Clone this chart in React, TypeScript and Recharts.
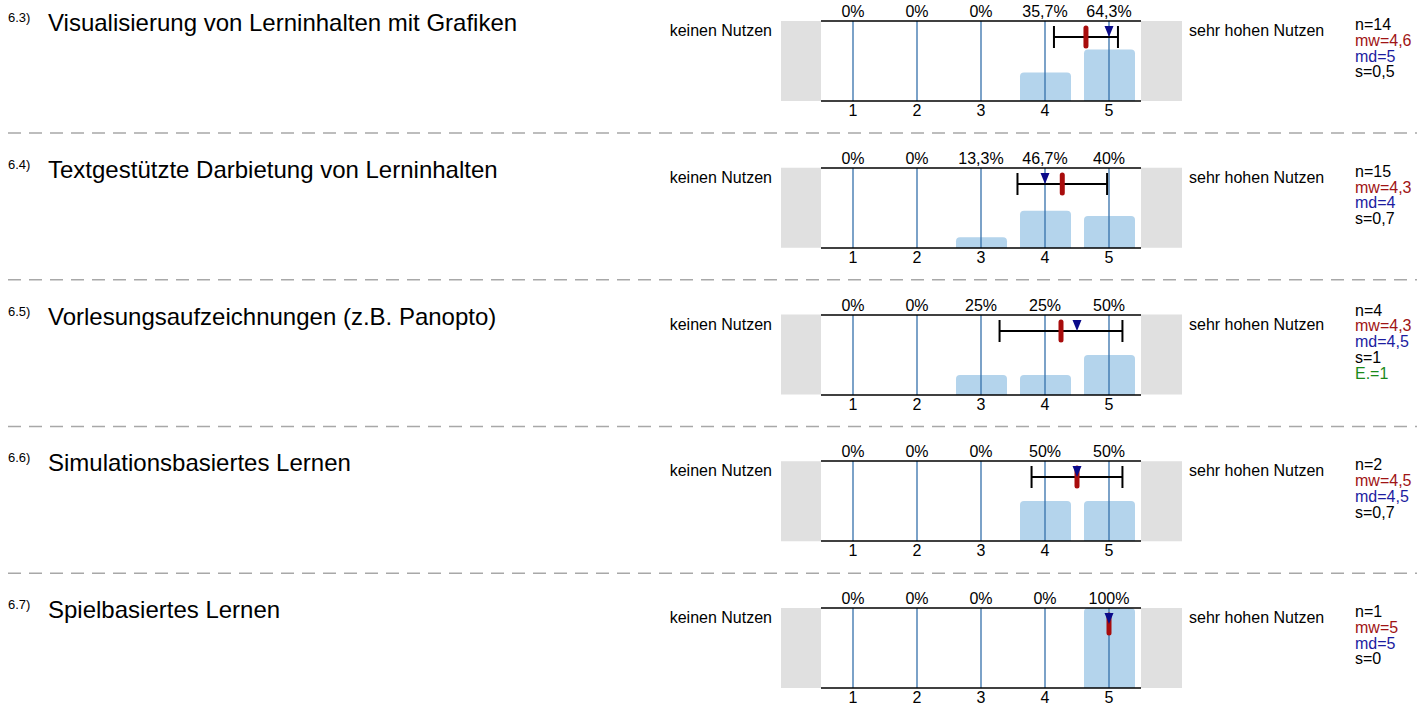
import React from 'react';
import {
  ComposedChart,
  Bar,
  XAxis,
  YAxis,
  Scatter,
  ErrorBar,
  ReferenceLine,
} from 'recharts';

// ---------- data ----------
const categories = ['1', '2', '3', '4', '5'];
const codes = ['6.3)', '6.4)', '6.5)', '6.6)', '6.7)'];
const titles = [
  'Visualisierung von Lerninhalten mit Grafiken',
  'Textgestützte Darbietung von Lerninhalten',
  'Vorlesungsaufzeichnungen (z.B. Panopto)',
  'Simulationsbasiertes Lernen',
  'Spielbasiertes Lernen',
];
const pctVisualisierung = [0, 0, 0, 35.7, 64.3];
const pctTextgestuetzt = [0, 0, 13.3, 46.7, 40];
const pctVorlesung = [0, 0, 25, 25, 50];
const pctSimulation = [0, 0, 0, 50, 50];
const pctSpiel = [0, 0, 0, 0, 100];
const percents = [pctVisualisierung, pctTextgestuetzt, pctVorlesung, pctSimulation, pctSpiel];

const means = [4.64, 4.27, 4.25, 4.5, 5];
const medians = [5, 4, 4.5, 4.5, 5];
const sds = [0.5, 0.7, 0.96, 0.71, 0];
const nLabels = ['14', '15', '4', '2', '1'];
const mwLabels = ['4,6', '4,3', '4,3', '4,5', '5'];
const mdLabels = ['5', '4', '4,5', '4,5', '5'];
const sLabels = ['0,5', '0,7', '1', '0,7', '0'];
const eLabels = ['', '', '1', '', ''];

const leftLabel = 'keinen Nutzen';
const rightLabel = 'sehr hohen Nutzen';

// ---------- style ----------
const FONT = '"Liberation Sans", Arial, Helvetica, sans-serif';
const ROW_H = 146.75;
const TOP0 = 21;
const PLOT_L = 821;
const PLOT_R = 1141;
const PLOT_H = 80;
const W = 1417;
const H = 715;

const fmtPct = (v: number) => `${String(v).replace('.', ',')}%`;

const MeanShape = (props: any) => {
  const { cx, cy } = props;
  if (cx == null || cy == null) return <g />;
  return <rect x={cx - 2.5} y={cy - 11.5} width={5} height={23} rx={2.5} ry={2.5} fill="#a80c0c" />;
};

const MedianShape = (props: any) => {
  const { cx, cy } = props;
  if (cx == null || cy == null) return <g />;
  return <path d={`M${cx - 4.5},${cy - 11} L${cx + 4.5},${cy - 11} L${cx},${cy} Z`} fill="#0a0a8a" />;
};

const NoShape = () => <g />;

function RowChart({ idx }: { idx: number }) {
  const pcts = percents[idx];
  const data = categories.map((c, i) => ({ cat: c, pct: pcts[i] }));
  const meanData = [{ x: means[idx], y: 80, err: sds[idx] }];
  const medData = [{ x: medians[idx], y: 80 }];
  const axisLine = { stroke: '#000', strokeWidth: 1.6 };
  const tick = { fill: '#000', fontSize: 16, fontFamily: FONT };
  return (
    <ComposedChart
      width={W}
      height={TOP0 + PLOT_H + 30}
      data={data}
      margin={{ top: 0, right: W - PLOT_R, bottom: 0, left: PLOT_L }}
    >
      <XAxis
        xAxisId="bottom"
        dataKey="cat"
        type="category"
        orientation="bottom"
        height={30}
        tickSize={0}
        tickMargin={4}
        tickLine={false}
        axisLine={axisLine}
        tick={tick}
        interval={0}
      />
      <XAxis
        xAxisId="top"
        dataKey="cat"
        type="category"
        orientation="top"
        height={TOP0}
        tickSize={0}
        tickMargin={4}
        tickLine={false}
        axisLine={axisLine}
        tick={tick}
        interval={0}
        tickFormatter={(v: string) => fmtPct(pcts[categories.indexOf(String(v))])}
      />
      <XAxis xAxisId="num" type="number" dataKey="x" domain={[0.5, 5.5]} allowDataOverflow hide />
      <YAxis yAxisId="y" type="number" domain={[0, 100]} allowDataOverflow hide />
      <Bar
        xAxisId="bottom"
        yAxisId="y"
        dataKey="pct"
        barSize={51}
        fill="#b4d4ec"
        radius={[4, 4, 0, 0]}
        isAnimationActive={false}
      />
      {categories.map((c) => (
        <ReferenceLine
          key={c}
          xAxisId="num"
          yAxisId="y"
          x={Number(c)}
          stroke="#3570ab"
          strokeWidth={1.3}
        />
      ))}
      {sds[idx] > 0 && (
        <Scatter
          xAxisId="num"
          yAxisId="y"
          data={meanData}
          dataKey="y"
          shape={NoShape}
          isAnimationActive={false}
        >
          <ErrorBar dataKey="err" direction="x" width={11} stroke="#000" strokeWidth={2} />
        </Scatter>
      )}
      <Scatter
        xAxisId="num"
        yAxisId="y"
        data={meanData}
        dataKey="y"
        shape={MeanShape}
        isAnimationActive={false}
      />
      <Scatter
        xAxisId="num"
        yAxisId="y"
        data={medData}
        dataKey="y"
        shape={MedianShape}
        isAnimationActive={false}
      />
    </ComposedChart>
  );
}

function Overlay() {
  const elems: React.ReactNode[] = [];
  titles.forEach((t, i) => {
    const T = TOP0 + i * ROW_H;
    elems.push(
      <text key={`c${i}`} x={8} y={T + 1} fontSize={13} fill="#000">{codes[i]}</text>,
      <text key={`t${i}`} x={48} y={T + 10} fontSize={24} fill="#000">{t}</text>,
      <text key={`l${i}`} x={772} y={T + 15} fontSize={16} fill="#000" textAnchor="end">{leftLabel}</text>,
      <rect key={`gl${i}`} x={781} y={T} width={PLOT_L - 781} height={PLOT_H} fill="#e0e0e0" />,
      <rect key={`gr${i}`} x={PLOT_R} y={T} width={1182 - PLOT_R} height={PLOT_H} fill="#e0e0e0" />,
      <text key={`r${i}`} x={1189} y={T + 15} fontSize={16} fill="#000">{rightLabel}</text>,
    );
    const lines: { s: string; c: string }[] = [
      { s: `n=${nLabels[i]}`, c: '#000' },
      { s: `mw=${mwLabels[i]}`, c: '#a01414' },
      { s: `md=${mdLabels[i]}`, c: '#1c1ca0' },
      { s: `s=${sLabels[i]}`, c: '#000' },
    ];
    if (eLabels[i]) lines.push({ s: `E.=${eLabels[i]}`, c: '#1a8a1a' });
    const L = lines.length;
    lines.forEach((ln, k) => {
      const by = T + 32.7 + (k - (L - 1) / 2) * 15.8;
      elems.push(
        <text key={`s${i}-${k}`} x={1355} y={by} fontSize={16} fill={ln.c}>{ln.s}</text>,
      );
    });
    if (i < titles.length - 1) {
      const yd = T + 112;
      elems.push(
        <line key={`d${i}`} x1={8} x2={W} y1={yd} y2={yd} stroke="#a8a8a8" strokeWidth={1.5} strokeDasharray="13 8" />,
      );
    }
  });
  return (
    <svg width={W} height={H} style={{ position: 'absolute', left: 0, top: 0, fontFamily: FONT }}>
      {elems}
    </svg>
  );
}

export default function App() {
  return (
    <div style={{ position: 'absolute', left: 0, top: 0, width: W, height: H, background: '#fff', fontFamily: FONT }}>
      <Overlay />
      {titles.map((_, i) => (
        <div key={i} style={{ position: 'absolute', left: 0, top: i * ROW_H, width: W, height: TOP0 + PLOT_H + 30 }}>
          <RowChart idx={i} />
        </div>
      ))}
    </div>
  );
}
